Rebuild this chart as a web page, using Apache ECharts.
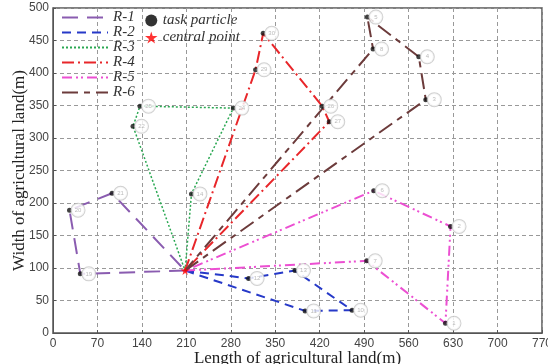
<!DOCTYPE html>
<html>
<head>
<meta charset="utf-8">
<script src="https://cdn.jsdelivr.net/npm/echarts@6/dist/echarts.min.js"></script>
<style>
  html, body { margin: 0; padding: 0; background: #fff; }
  #chart { width: 548px; height: 364px; }
</style>
</head>
<body>
<div id="chart"></div>
<script>
// central point and route points (x = length, y = width, in m)
const centerPoint = [208, 96];

const route1 = [[43, 91], [26, 189], [93, 215]];
const route1Ids = [19, 20, 21];
const route2 = [[308, 84], [381, 96], [471, 35], [397, 34]];
const route2Ids = [12, 13, 10, 11];
const route3 = [[218, 214], [284, 346], [137, 349], [126, 318]];
const route3Ids = [14, 24, 25, 22];
const route4 = [[319, 405], [331, 461], [424, 349], [435, 325]];
const route4Ids = [29, 30, 26, 27];
const route5 = [[494, 111], [618, 15], [626, 164], [505, 219]];
const route5Ids = [7, 1, 2, 6];
const route6 = [[587, 359], [576, 425], [495, 486], [504, 437]];
const route6Ids = [3, 4, 5, 8];

const xTicks = [0, 70, 140, 210, 280, 350, 420, 490, 560, 630, 700, 770];
const yTicks = [0, 50, 100, 150, 200, 250, 300, 350, 400, 450, 500];

const routes = [
  { name: 'R-1', pts: route1, ids: route1Ids, color: '#8a5cb0', dash: [16, 9], width: 2 },
  { name: 'R-2', pts: route2, ids: route2Ids, color: '#2639c8', dash: [9, 6], width: 2 },
  { name: 'R-3', pts: route3, ids: route3Ids, color: '#2aa852', dash: [2, 2], width: 1.5 },
  { name: 'R-4', pts: route4, ids: route4Ids, color: '#e8262a', dash: [12, 4, 2, 4], width: 2 },
  { name: 'R-5', pts: route5, ids: route5Ids, color: '#ec4fd2', dash: [10, 4, 2, 3, 2, 4], width: 2 },
  { name: 'R-6', pts: route6, ids: route6Ids, color: '#6c3b3b', dash: [16, 6, 6, 6], width: 2 }
];

const starPath = 'path://M50,0 L61,35 L98,35 L68,57 L79,92 L50,70 L21,92 L32,57 L2,35 L39,35 Z';
const serif = '"Liberation Serif", "DejaVu Serif", serif';

const lineSeries = routes.map(r => ({
  name: r.name,
  type: 'line',
  data: [centerPoint].concat(r.pts, [centerPoint]),
  symbol: 'none',
  z: 3,
  color: r.color,
  lineStyle: { color: r.color, width: r.width, type: r.dash }
}));

const particleData = [];
routes.forEach(r => {
  r.pts.forEach((p, i) => particleData.push({ value: p, id: String(r.ids[i]) }));
});

const chart = echarts.init(document.getElementById('chart'));
chart.setOption({
  animation: false,
  grid: {
    left: 53, right: 6, top: 8, bottom: 31,
    containLabel: false, outerBoundsMode: 'none',
    show: true, borderColor: '#555', borderWidth: 1.5
  },
  legend: [
    {
      data: routes.map(r => r.name),
      orient: 'vertical',
      left: 56, top: 5,
      itemWidth: 46, itemHeight: 10, itemGap: 0,
      itemStyle: { opacity: 0 },
      textStyle: { fontFamily: serif, fontSize: 15, lineHeight: 14, fontStyle: 'italic', color: '#333' }
    },
    {
      data: [
        { name: 'task particle', icon: 'circle', itemStyle: { color: '#000' } },
        { name: 'central point', icon: starPath, itemStyle: { color: '#f00' } }
      ],
      orient: 'vertical',
      left: 140, top: 8,
      itemWidth: 13, itemHeight: 12, itemGap: 2,
      textStyle: { fontFamily: serif, fontSize: 15, fontStyle: 'italic', color: '#333' }
    }
  ],
  xAxis: {
    type: 'value', min: xTicks[0], max: xTicks[xTicks.length - 1], interval: 70,
    name: 'Length of agricultural land(m)', nameLocation: 'middle', nameGap: 17,
    nameMoveOverlap: false,
    nameTextStyle: { fontFamily: serif, fontSize: 17, color: '#222' },
    axisLine: { lineStyle: { color: '#555' } },
    axisTick: { inside: true, length: 3, lineStyle: { color: '#555' } },
    axisLabel: { color: '#444', fontSize: 12, fontFamily: '"Liberation Sans", Arial, sans-serif', margin: 5 },
    splitLine: { show: true, lineStyle: { color: '#999', type: [4, 3] } }
  },
  yAxis: {
    type: 'value', min: yTicks[0], max: yTicks[yTicks.length - 1], interval: 50,
    name: 'Width of agricultural land(m)', nameLocation: 'middle', nameGap: 25,
    nameMoveOverlap: false,
    nameTextStyle: { fontFamily: serif, fontSize: 17, color: '#222' },
    axisLine: { lineStyle: { color: '#555' } },
    axisTick: { inside: true, length: 3, lineStyle: { color: '#555' } },
    axisLabel: { color: '#444', fontSize: 12, fontFamily: '"Liberation Sans", Arial, sans-serif', margin: 4 },
    splitLine: { show: true, lineStyle: { color: '#999', type: [4, 3] } }
  },
  series: lineSeries.concat([
    {
      name: 'task particle',
      type: 'scatter',
      data: particleData,
      symbol: 'circle',
      symbolSize: 5,
      z: 5,
      itemStyle: { color: '#111' },
      label: {
        show: true,
        position: 'right',
        distance: 6,
        formatter: p => p.data.id,
        fontSize: 6,
        color: '#aaa',
        width: 13, height: 13, lineHeight: 13, align: 'center',
        borderColor: '#c4c4c4', borderWidth: 1, borderRadius: 7,
        backgroundColor: '#fff'
      }
    },
    {
      name: 'central point',
      type: 'scatter',
      data: [centerPoint],
      symbol: starPath,
      symbolSize: 9,
      z: 6,
      itemStyle: { color: '#f00' }
    }
  ])
});
</script>
</body>
</html>
